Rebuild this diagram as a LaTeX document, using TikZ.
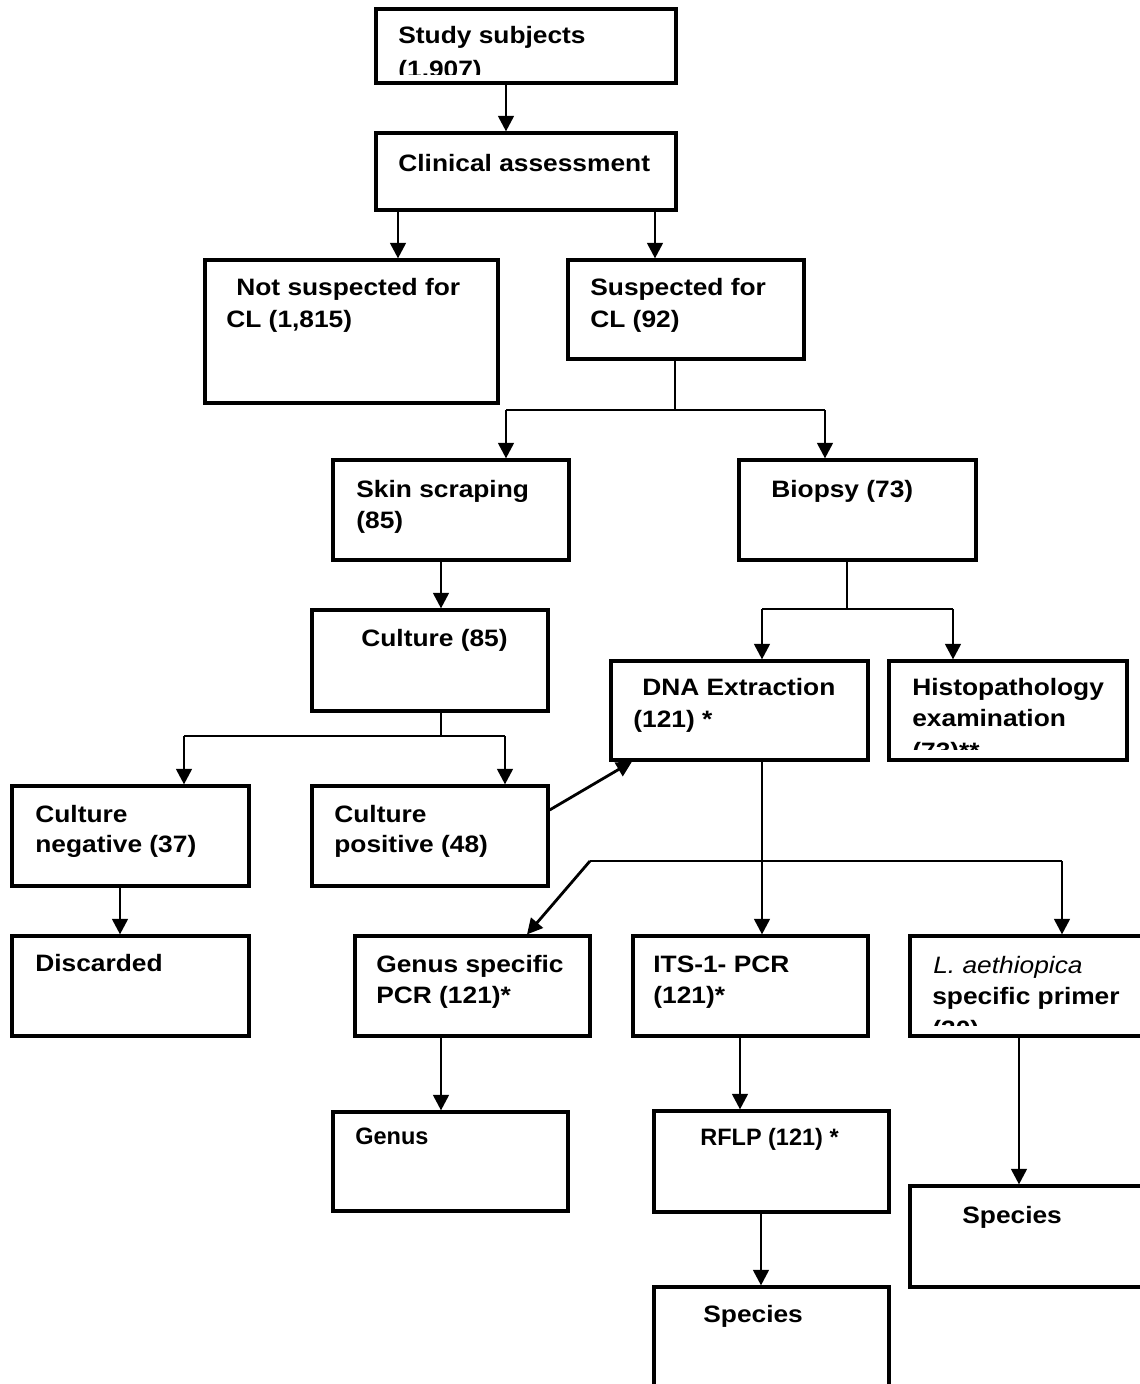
\documentclass[tikz,border=0pt]{standalone}
\usepackage{fontspec}
\setmainfont{Liberation Sans}[FakeStretch=1.11]
\newfontfamily\narrowf{Liberation Sans}[FakeStretch=0.99]
\usetikzlibrary{fit,arrows.meta}
\begin{document}
\begin{tikzpicture}[x=0.02cm,y=-0.02cm,
  box/.style={draw=black,line width=1.8pt,inner sep=0pt,fill=none},
  tx/.style={inner sep=0pt,anchor=base west,font=\fontsize{13.5pt}{15pt}\selectfont\bfseries},
  txs/.style={inner sep=0pt,anchor=base west,font=\narrowf\fontsize{13.5pt}{15pt}\selectfont\bfseries},
  ln/.style={line width=1.6pt},
  arr/.style={line width=1.6pt,-{Triangle[length=0.31cm,width=0.31cm]}}]
\useasboundingbox (0,0) rectangle (1140,1384);
\fill[white] (0,0) rectangle (1140,1384);

% boxes
\node[box,fit={(376,9) (676,83)}] (study) {};
\node[box,fit={(376,133) (676,210)}] (clin) {};
\node[box,fit={(205,260) (498,403)}] (notsus) {};
\node[box,fit={(568,260) (804,359)}] (sus) {};
\node[box,fit={(333,460) (569,560)}] (skin) {};
\node[box,fit={(739,460) (976,560)}] (biopsy) {};
\node[box,fit={(312,610) (548,711)}] (cult) {};
\node[box,fit={(12,786) (249,886)}] (neg) {};
\node[box,fit={(312,786) (548,886)}] (pos) {};
\node[box,fit={(611,661) (868,760)}] (dna) {};
\node[box,fit={(889,661) (1127,760)}] (histo) {};
\node[box,fit={(12,936) (249,1036)}] (disc) {};
\node[box,fit={(355,936) (590,1036)}] (gsp) {};
\node[box,fit={(633,936) (868,1036)}] (its) {};
\node[box,fit={(910,936) (1150,1036)}] (laeth) {};
\node[box,fit={(333,1112) (568,1211)}] (genus) {};
\node[box,fit={(654,1111) (889,1212)}] (rflp) {};
\node[box,fit={(910,1186) (1150,1287)}] (sprt) {};
\node[box,fit={(654,1287) (889,1400)}] (sbot) {};

% texts
\begin{scope}
\clip (study.north west) rectangle (676,74);
\node[tx] (study1) at (398,43) {Study subjects};
\node[tx] (study2) at (398,77) {(1.907)};
\end{scope}
\node[tx] (clin1) at (398,171) {Clinical assessment};
\node[tx] (notsus1) at (236,295) {Not suspected for};
\node[tx] (notsus2) at (226,327) {CL (1,815)};
\node[tx] (sus1) at (590,295) {Suspected for};
\node[tx] (sus2) at (590,327) {CL (92)};
\node[tx] (skin1) at (356,497) {Skin scraping};
\node[tx] (skin2) at (356,528) {(85)};
\node[tx] (biopsy1) at (771,497) {Biopsy (73)};
\node[tx] (cult1) at (361,646) {Culture (85)};
\node[tx] (neg1) at (35,822) {Culture};
\node[tx] (neg2) at (35,852) {negative (37)};
\node[tx] (pos1) at (334,822) {Culture};
\node[tx] (pos2) at (334,852) {positive (48)};
\node[tx] (dna1) at (642,695) {DNA Extraction};
\node[tx] (dna2) at (633,727) {(121) *};
\begin{scope}
\clip (histo.north west) rectangle (1127,749);
\node[tx] (histo1) at (912,695) {Histopathology};
\node[tx] (histo2) at (912,726) {examination};
\node[tx] (histo3) at (912,759) {(73)**};
\end{scope}
\node[tx] (disc1) at (35,971) {Discarded};
\node[tx] (gsp1) at (376,972) {Genus specific};
\node[tx] (gsp2) at (376,1003) {PCR (121)*};
\node[tx] (its1) at (653,972) {ITS-1- PCR};
\node[tx] (its2) at (653,1003) {(121)*};
\begin{scope}
\clip (laeth.north west) rectangle (1150,1025);
\node[tx,font=\fontsize{13.5pt}{15pt}\selectfont\itshape] (laeth1) at (933,973) {L. aethiopica};
\node[tx] (laeth2) at (932,1004) {specific primer};
\node[tx] (laeth3) at (932,1037) {(30)};
\end{scope}
\node[txs] (genus1) at (355,1144) {Genus};
\node[txs] (rflp1) at (700,1145) {RFLP (121) *};
\node[tx] (sprt1) at (962,1223) {Species};
\node[tx] (sbot1) at (703,1322) {Species};

% connectors
\draw[arr] (506,0 |- study.south) -- (506,0 |- clin.north);
\draw[arr] (398,0 |- clin.south) -- (398,0 |- notsus.north);
\draw[arr] (655,0 |- clin.south) -- (655,0 |- sus.north);
\coordinate (j1) at (675,410);
\draw[ln] (675,0 |- sus.south) -- (j1);
\draw[ln] (506,410) -- (825,410);
\draw[arr] (506,410) -- (506,0 |- skin.north);
\draw[arr] (825,410) -- (825,0 |- biopsy.north);
\draw[arr] (441,0 |- skin.south) -- (441,0 |- cult.north);
\coordinate (j2) at (441,736);
\draw[ln] (441,0 |- cult.south) -- (j2);
\draw[ln] (184,736) -- (505,736);
\draw[arr] (184,736) -- (184,0 |- neg.north);
\draw[arr] (505,736) -- (505,0 |- pos.north);
\draw[arr] (120,0 |- neg.south) -- (120,0 |- disc.north);
\coordinate (j3) at (847,609);
\draw[ln] (847,0 |- biopsy.south) -- (j3);
\draw[ln] (762,609) -- (953,609);
\draw[arr] (762,609) -- (762,0 |- dna.north);
\draw[arr] (953,609) -- (953,0 |- histo.north);
\draw[arr] (pos.east |- 0,810) -- (632,0 |- dna.south);
\draw[arr] (762,0 |- dna.south) -- (762,0 |- its.north);
\coordinate (j4) at (590,861);
\draw[ln] (j4) -- (1062,861);
\draw[arr] (j4) -- (527,0 |- gsp.north);
\draw[arr] (1062,861) -- (1062,0 |- laeth.north);
\draw[arr] (441,0 |- gsp.south) -- (441,0 |- genus.north);
\draw[arr] (740,0 |- its.south) -- (740,0 |- rflp.north);
\draw[arr] (1019,0 |- laeth.south) -- (1019,0 |- sprt.north);
\draw[arr] (761,0 |- rflp.south) -- (761,0 |- sbot.north);
\end{tikzpicture}
\end{document}
